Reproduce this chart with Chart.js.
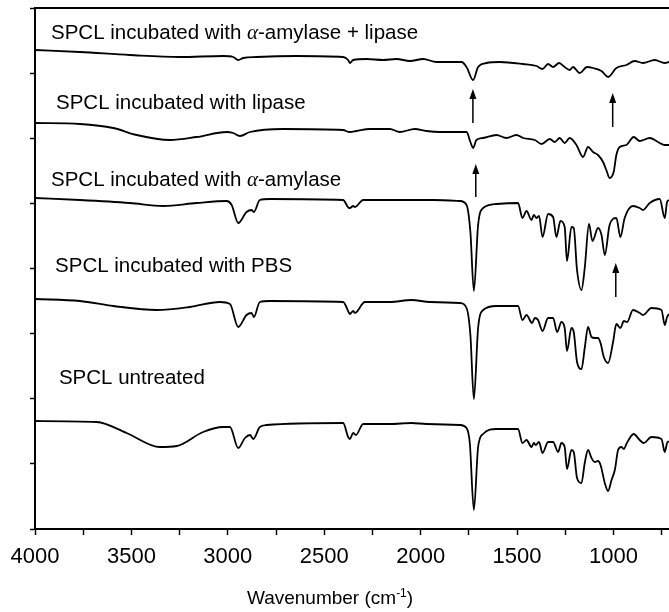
<!DOCTYPE html>
<html>
<head>
<meta charset="utf-8">
<script src="https://cdn.jsdelivr.net/npm/chart.js@4.4.1/dist/chart.umd.min.js"></script>
<style>
  html, body { margin: 0; padding: 0; background: #fff; }
  #wrap { position: relative; width: 669px; height: 612px; }
</style>
</head>
<body>
<div id="wrap"><canvas id="ftir"></canvas></div>
<script>
// FTIR spectra, offset transmittance (plot units), wavenumber in cm-1
const wnBoth = [4000,3767,3508,3249,3024,2972,2946,2920,2851,2644,2402,2376,2367,2350,2281,2195,2125,2056,1987,1918,1788,1762,1728,1702,1659,1590,1469,1399,1368,1339,1313,1282,1253,1227,1210,1175,1137,1106,1062,1028,985,933,890,847,786,734,712];
const tBoth = [479,477,474,472,473,472,469,471,472,473,472,469,466,469,470,469,470,468,470,467,467,462,449,462,466,467,465,463,460,465,462,466,462,459,462,456,462,461,458,452,461,464,468,466,469,466,467];

const wnLipase = [4000,3767,3594,3473,3300,3162,3006,2972,2937,2885,2713,2402,2371,2367,2333,2264,2160,2108,2030,1970,1901,1762,1742,1728,1711,1676,1607,1555,1503,1469,1408,1373,1330,1305,1279,1253,1227,1192,1158,1132,1106,1080,1054,1037,1020,999,985,968,933,895,864,812,769,734,712];
const tLipase = [406,405,401,394,389,392,397,396,393,397,400,399,397,397,398,400,400,397,400,398,397,397,387,381,389,391,394,391,394,391,389,385,390,387,391,386,391,384,372,382,377,374,367,359,351,357,374,382,384,392,388,391,387,384,384];

const wnAmylase = [4000,3767,3508,3335,3162,3006,2980,2946,2903,2877,2865,2834,2782,2402,2371,2367,2350,2341,2298,2160,1935,1797,1762,1742,1724,1702,1676,1607,1495,1472,1451,1425,1413,1399,1386,1368,1339,1313,1296,1275,1253,1241,1218,1206,1189,1166,1149,1127,1109,1080,1062,1045,1020,985,964,942,899,864,847,812,760,734,722,712];
const tAmylase = [331,329,326,323,326,328,324,306,317,319,317,329,330,329,321,321,323,322,329,329,329,328,324,297,238,304,321,325,326,311,318,309,314,311,313,292,315,312,292,308,302,268,302,301,259,239,261,305,288,301,294,274,304,311,292,311,323,321,319,326,330,311,327,329];

const wnPbs = [4000,3767,3594,3369,3197,3041,2989,2946,2903,2877,2865,2834,2782,2402,2371,2367,2350,2341,2289,2160,2047,1952,1797,1762,1742,1724,1702,1676,1607,1495,1472,1451,1422,1408,1391,1368,1339,1313,1292,1270,1253,1241,1218,1206,1189,1166,1149,1132,1114,1097,1080,1067,1050,1028,1002,985,964,946,929,899,864,847,803,751,734,722,712];
const tPbs = [230,228,223,219,222,227,225,202,214,216,212,227,228,227,216,215,218,216,227,227,229,227,226,221,194,130,201,219,223,223,209,214,206,211,209,198,211,211,197,207,201,178,201,197,167,160,181,202,192,191,191,186,172,166,187,205,201,208,207,219,216,214,221,219,204,212,215];

const wnUntreated = [4000,3680,3525,3352,3265,3128,3024,2989,2946,2911,2885,2868,2834,2799,2402,2376,2367,2350,2336,2298,2160,2047,1970,1797,1762,1745,1724,1702,1676,1607,1495,1472,1451,1425,1413,1403,1386,1368,1339,1313,1287,1270,1253,1241,1218,1206,1189,1166,1149,1132,1114,1097,1080,1067,1045,1028,1010,993,976,959,946,933,895,864,843,803,751,734,722,712];
const tUntreated = [108,107,96,82,83,97,102,102,81,91,94,90,102,104,106,92,90,96,94,105,105,106,105,104,101,86,19,82,95,100,100,86,89,82,86,84,87,76,87,87,77,86,82,60,79,77,51,46,66,79,71,67,68,64,46,38,49,59,79,82,80,85,95,89,86,92,90,77,86,88];

// axis ticks
const xTicks = [4000,3750,3500,3250,3000,2750,2500,2250,2000,1750,1500,1250,1000,750];
const xTickLabels = ['4000','','3500','','3000','','2500','','2000','','1500','','1000',''];
const yTicks = [0,65.125,130.25,195.375,260.5,325.625,390.75,455.875,521];

// labels and arrows, in data units
const labelText = [
    'SPCL incubated with α-amylase + lipase',
    'SPCL incubated with lipase',
    'SPCL incubated with α-amylase',
    'SPCL incubated with PBS',
    'SPCL untreated',
];
const labelWn = [3917, 3891, 3917, 3896, 3876];
const labelT = [490, 420, 343, 257, 145];

const arrowWn = [1729, 1004, 1714, 988];
const arrowFrom = [406, 402, 332, 232];
const arrowTo = [440, 436, 365, 266];

const SANS = '"Liberation Sans", Arial, Helvetica, sans-serif';

function toPoints(wn, t) {
    return wn.map((w, i) => ({ x: w, y: t[i] }));
}

function trace(label, wn, t) {
    return {
        label,
        data: toPoints(wn, t),
        borderColor: '#000',
        borderWidth: 1.8,
        pointRadius: 0,
        cubicInterpolationMode: 'monotone',
        fill: false,
    };
}

function drawLabel(ctx, text, x, y) {
    const parts = text.split('α');
    let cx = x;
    parts.forEach((p, i) => {
        if (i > 0) {
            ctx.font = 'italic 21px "Liberation Serif", serif';
            ctx.fillText('α', cx, y);
            cx += ctx.measureText('α').width;
        }
        ctx.font = '20.5px ' + SANS;
        ctx.fillText(p, cx, y);
        cx += ctx.measureText(p).width;
    });
}

const overlay = {
    id: 'overlay',
    afterDatasetsDraw(chart) {
        const { ctx, chartArea: a, scales: { x, y } } = chart;
        ctx.save();

        // top frame line
        ctx.strokeStyle = '#000';
        ctx.lineWidth = 2;
        ctx.beginPath();
        ctx.moveTo(a.left, a.top);
        ctx.lineTo(a.right, a.top);
        ctx.stroke();

        // arrows
        ctx.fillStyle = '#000';
        ctx.lineWidth = 1.5;
        arrowWn.forEach((w, i) => {
            const px = x.getPixelForValue(w);
            const y0 = y.getPixelForValue(arrowFrom[i]);
            const y1 = y.getPixelForValue(arrowTo[i]);
            ctx.beginPath();
            ctx.moveTo(px, y0);
            ctx.lineTo(px, y1 + 8);
            ctx.stroke();
            ctx.beginPath();
            ctx.moveTo(px, y1);
            ctx.lineTo(px - 3.5, y1 + 10);
            ctx.lineTo(px + 3.5, y1 + 10);
            ctx.closePath();
            ctx.fill();
        });

        // trace labels
        ctx.textBaseline = 'alphabetic';
        ctx.textAlign = 'left';
        labelText.forEach((txt, i) => {
            drawLabel(ctx, txt, x.getPixelForValue(labelWn[i]), y.getPixelForValue(labelT[i]));
        });

        // axis title with superscript
        const main = 'Wavenumber (cm';
        const sup = '-1';
        const close = ')';
        ctx.font = '19px ' + SANS;
        const wMain = ctx.measureText(main).width;
        const wClose = ctx.measureText(close).width;
        ctx.font = '12px ' + SANS;
        const wSup = ctx.measureText(sup).width;
        const cx = x.getPixelForValue(2470);
        const base = chart.height - 8;
        let tx = cx - (wMain + wSup + wClose) / 2;
        ctx.font = '19px ' + SANS;
        ctx.fillText(main, tx, base);
        tx += wMain;
        ctx.font = '12px ' + SANS;
        ctx.fillText(sup, tx, base - 7);
        tx += wSup;
        ctx.font = '19px ' + SANS;
        ctx.fillText(close, tx, base);

        ctx.restore();
    },
};

new Chart(document.getElementById('ftir').getContext('2d'), {
    type: 'line',
    data: {
        datasets: [
            trace('SPCL incubated with α-amylase + lipase', wnBoth, tBoth),
            trace('SPCL incubated with lipase', wnLipase, tLipase),
            trace('SPCL incubated with α-amylase', wnAmylase, tAmylase),
            trace('SPCL incubated with PBS', wnPbs, tPbs),
            trace('SPCL untreated', wnUntreated, tUntreated),
        ],
    },
    options: {
        responsive: true,
        maintainAspectRatio: false,
        animation: false,
        layout: { padding: { top: 8, left: 0, right: 0, bottom: 0 } },
        plugins: { legend: { display: false }, tooltip: { enabled: false } },
        scales: {
            x: {
                type: 'linear',
                reverse: true,
                min: 712,
                max: 4000,
                border: { color: '#000', width: 2 },
                grid: { drawOnChartArea: false, drawTicks: true, tickLength: 6, tickWidth: 1.5, tickColor: '#000' },
                afterBuildTicks: (s) => { s.ticks = xTicks.map((v) => ({ value: v })); },
                ticks: {
                    autoSkip: false,
                    maxRotation: 0,
                    minRotation: 0,
                    padding: 9,
                    color: '#000',
                    font: { family: SANS, size: 22 },
                    callback: (v, i) => xTickLabels[i],
                },
                afterFit: (s) => {
                    s.height = 83;
                    s.paddingLeft = 0;
                    s.paddingRight = 0;
                },
            },
            y: {
                type: 'linear',
                min: 0,
                max: 521,
                border: { color: '#000', width: 2 },
                grid: { drawOnChartArea: false, drawTicks: true, tickLength: 5, tickWidth: 1.5, tickColor: '#000' },
                afterBuildTicks: (s) => { s.ticks = yTicks.map((v) => ({ value: v })); },
                ticks: { autoSkip: false, callback: () => '' },
                afterFit: (s) => {
                    s.width = 35;
                    s.paddingTop = 0;
                    s.paddingBottom = 0;
                },
            },
        },
    },
    plugins: [overlay],
});
</script>
</body>
</html>
